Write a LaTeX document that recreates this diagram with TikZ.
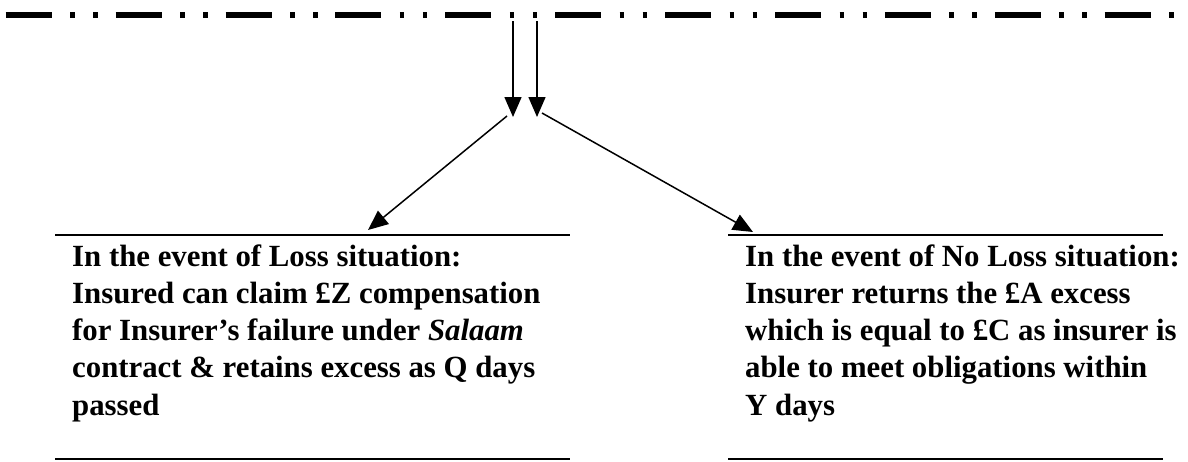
\documentclass[tikz,border=0pt]{standalone}
\usepackage{fontspec}
\setmainfont{Liberation Serif}
\usetikzlibrary{arrows.meta}
\begin{document}
\begin{tikzpicture}[x=1pt,y=-1pt,
  dashdotdot/.style={line width=5.5pt, dash pattern=on 46pt off 18.5pt on 4.5pt off 18.5pt on 4.5pt off 17.9pt},
  arr/.style={line width=1.5pt, -{Triangle[length=20pt,width=17pt]}},
  rule/.style={line width=2pt},
  txt/.style={inner sep=0pt, anchor=base west, font=\fontsize{30.8}{37.3}\selectfont\bfseries}]
\useasboundingbox (0,0) rectangle (1188,461);
\fill[white] (0,0) rectangle (1188,461);
% top dash-dot-dot line
\coordinate (dl) at (5.7,15);
\coordinate (dr) at (1173.5,15);
\draw[dashdotdot] (dl) -- (dr);
% vertical arrows
\coordinate (v1s) at (513,21);
\coordinate (v1e) at (513,117);
\coordinate (v2s) at (537,21);
\coordinate (v2e) at (537,117);
\draw[arr] (v1s) -- (v1e);
\draw[arr] (v2s) -- (v2e);
% diagonal arrows
\coordinate (d1s) at (507,116);
\coordinate (d1e) at (368,230);
\coordinate (d2s) at (542,113);
\coordinate (d2e) at (753,232);
\draw[arr] (d1s) -- (d1e);
\draw[arr] (d2s) -- (d2e);
% rules
\coordinate (lt1) at (55,235);
\coordinate (lt2) at (570,235);
\coordinate (lb1) at (55,459);
\coordinate (lb2) at (570,459);
\coordinate (rt1) at (728,235);
\coordinate (rt2) at (1163,235);
\coordinate (rb1) at (728,459);
\coordinate (rb2) at (1163,459);
\draw[rule] (lt1) -- (lt2);
\draw[rule] (lb1) -- (lb2);
\draw[rule] (rt1) -- (rt2);
\draw[rule] (rb1) -- (rb2);
% texts
\node[txt] (lefttext) at (72,266) {\begin{tabular}[t]{@{}l@{}}
In the event of Loss situation:\\
Insured can claim £Z compensation\\
for Insurer’s failure under \textit{Salaam}\\
contract \& retains excess as Q days\\
passed
\end{tabular}};
\node[txt] (righttext) at (745,266) {\begin{tabular}[t]{@{}l@{}}
In the event of No Loss situation:\\
Insurer returns the £A excess\\
which is equal to £C as insurer is\\
able to meet obligations within\\
Y days
\end{tabular}};
\end{tikzpicture}
\end{document}
